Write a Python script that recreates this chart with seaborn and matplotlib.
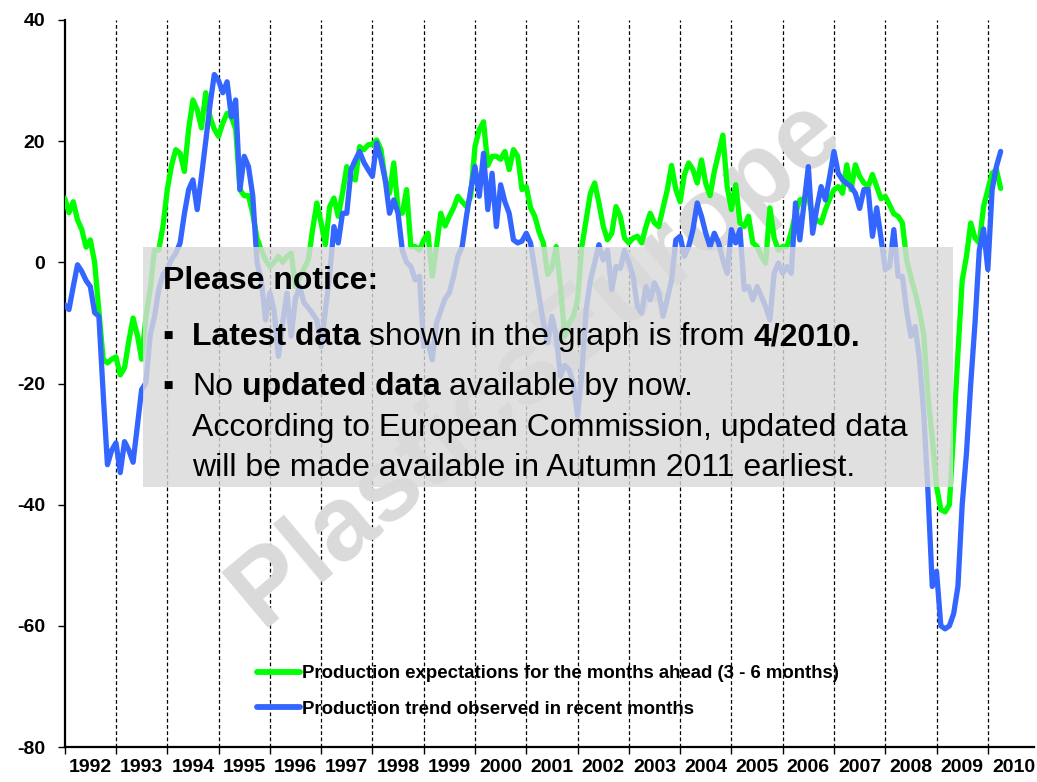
import numpy as np
import pandas as pd
import matplotlib
matplotlib.use("Agg")
import matplotlib.pyplot as plt
from matplotlib.patches import Rectangle
import seaborn as sns

# ---------------- data (monthly, Jan 1992 .. Apr 2010) ----------------
dates = pd.date_range("1992-01-01", periods=220, freq="MS")

expectations = [
    10.6, 8.2, 10, 7, 5.4, 2.5, 3.7, 0, -8, -16, -16.6, -16,
    -15.6, -18.6, -17.4, -13, -9.2, -12, -16, -9, -4.5, 2, 2, 6,
    12, 16, 18.6, 18, 15, 22, 26.8, 25.2, 22.2, 28, 24, 22,
    20.8, 23, 24.6, 24, 22, 12, 11, 11, 8, 4, 2, 0.4,
    -0.7, 0, 1, 0, 1, 1.5, -4, -2.5, -1, 0.4, 5.4, 9.8,
    6.5, 2.9, 9.2, 10.6, 7.6, 11.4, 15.8, 14, 13.6, 19.1, 18.6, 19.4,
    19.5, 20.2, 18.6, 13.6, 11.4, 16.4, 8.7, 8.1, 12, 2.6, 2.6, 2,
    3.7, 4.8, -2.3, 2.6, 8.1, 6, 7.6, 9, 10.9, 10, 9.2, 10.9,
    19.1, 21.9, 23.2, 16, 17.5, 17.5, 17, 18.3, 15.3, 18.6, 17.5, 12,
    12.5, 9, 7.6, 5, 3.2, -2, -1, 2.6, -4, -12.2, -10, -8.9,
    -6.2, 2.6, 7, 11.4, 13.1, 9.8, 6, 3.7, 4.8, 9.2, 7.6, 4,
    3.2, 4, 4.3, 3.2, 5.9, 8.1, 6.5, 5.9, 9, 12, 16, 12,
    10, 14.5, 16.4, 15.3, 13.1, 16.9, 13, 11, 15, 18, 21, 12.5,
    8.7, 12.8, 6.5, 5.9, 7.6, 3.2, 2.6, 1, -0.1, 9, 4, 2,
    2.6, 2.6, 5, 8, 10.3, 10.5, 10.9, 7.6, 7, 6.5, 8.7, 10.5,
    12, 12.5, 11.4, 16.1, 12, 16.1, 14.2, 13.1, 12.5, 14.5, 12.5, 10.5,
    10.9, 9.5, 8, 7.6, 6.5, 0.4, -2.5, -5, -8, -12, -22, -29,
    -37, -40.8, -41.2, -40, -28, -15, -3, 1, 6.5, 4, 3.2, 9.2,
    12, 14.7, 15.3, 12.2,
]

trend = [
    -7, -7.8, -4, -0.4, -1.5, -3, -4, -8.3, -8.9, -21.6, -33.4, -31,
    -29.8, -34.7, -29.6, -31, -33, -27, -21, -19.9, -12, -9, -4.5, -2,
    -1.2, 0.5, 1.5, 3.2, 8, 12, 13.6, 8.7, 14.2, 20, 26, 31,
    30, 28, 29.8, 24, 26.8, 12, 17.5, 15.8, 11, 0, -3, -9.5,
    -5, -8, -15.5, -10, -5.1, -12.2, -6, -4, -6.7, -7.5, -8.5, -9.5,
    -13.9, -8, -2, 5.9, 3.2, 8.1, 8.1, 15.3, 16.9, 18.3, 16.5, 15.3,
    14.2, 19.7, 17, 13.6, 8.1, 10.3, 8.1, 2, 0, -0.7, -2.9, -2.3,
    -13.9, -13.3, -16.1, -10, -8, -6, -5, -2.3, 1, 2.6, 7.6, 12,
    15.8, 10.9, 18, 8.7, 14.7, 5.9, 12.8, 10, 8.1, 3.7, 3.2, 3.5,
    4.8, 3.2, -1.2, -5.6, -10, -13.3, -8.9, -12.2, -18.8, -17, -17.7, -19.9,
    -25.4, -18.3, -7.8, -3, -0.1, 2.9, 0.4, 2, -4.5, -0.7, -1, 2,
    0, -2.3, -7.3, -8.4, -4, -6.2, -3.4, -5, -8.9, -6, -2.9, 3.7,
    4.3, 1, 2.6, 5.4, 9.8, 7.6, 4.8, 2.6, 4.8, 3.2, 0.4, -1.8,
    5.4, 3.2, 5.4, -4.5, -4, -6.2, -4, -5.6, -7.3, -9.5, -1.8, -0.1,
    -1.8, -0.7, -1.8, 9.8, 3.7, 9.8, 15.8, 4.8, 9, 12.5, 10.3, 14.2,
    18.3, 14.7, 13.6, 13, 12.5, 11.4, 8.9, 12, 12, 4.3, 9, 4,
    -1.2, -0.7, 5.4, -2.3, -2.3, -8, -12.2, -10.6, -16, -25, -38, -53.5,
    -51, -60, -60.5, -60, -58, -53.5, -40, -31.5, -20, -10, 2, 5.5,
    -1.2, 12, 15.8, 18.3,
]

year_labels = [str(y) for y in range(1992, 2011)]
y_ticks = [-80, -60, -40, -20, 0, 20, 40]

label_exp = "Production expectations for the months ahead (3 - 6 months)"
label_trend = "Production trend observed in recent months"

# ---------------- figure ----------------
sns.set_theme(style="white")
plt.rcParams["font.family"] = ["Liberation Sans", "DejaVu Sans"]
plt.rcParams["text.color"] = "black"
plt.rcParams["xtick.color"] = "black"
plt.rcParams["ytick.color"] = "black"

W, H = 1037, 782
fig = plt.figure(figsize=(W / 100, H / 100), dpi=100)
ax = fig.add_axes([64.7 / W, 35 / H, (1034 - 64.7) / W, 727 / H])

dec_year = dates.year + (dates.month - 1) / 12.0
df = pd.DataFrame({"t": dec_year, "exp": expectations, "trend": trend})

GREEN = "#00FF00"
BLUE = "#3366FF"

sns.lineplot(data=df, x="t", y="exp", color=GREEN, lw=3.8, ax=ax,
             label=label_exp, zorder=3, solid_joinstyle="round")
sns.lineplot(data=df, x="t", y="trend", color=BLUE, lw=3.8, ax=ax,
             label=label_trend, zorder=4, solid_joinstyle="round")

ax.set_xlim(1992, 2010.9)
ax.set_ylim(-80, 40)
ax.set_xlabel("")
ax.set_ylabel("")

# year separator dashed lines
for yr in range(1993, 2011):
    ax.axvline(yr, color="black", lw=0.9, ls=(0, (3, 2)), zorder=1)

# ticks
ax.set_yticks(y_ticks)
ax.set_yticklabels([str(v) for v in y_ticks], fontsize=14, fontweight="bold",
                   color="black")
ax.set_xticks(range(1992, 2011))
ax.set_xticklabels([])
ax.set_xticks([y + 0.5 for y in range(1992, 2011)], minor=True)
ax.set_xticklabels(year_labels, minor=True, fontsize=14, fontweight="bold",
                   color="black")
ax.tick_params(axis="x", which="major", direction="out", length=5, width=1,
               color="black", bottom=True)
ax.tick_params(axis="x", which="minor", length=0, pad=9, bottom=True)
ax.tick_params(axis="y", direction="out", length=5, width=1, color="black",
               pad=9, left=True)
for s in ["top", "right"]:
    ax.spines[s].set_visible(False)
for s in ["left", "bottom"]:
    ax.spines[s].set_color("black")
    ax.spines[s].set_linewidth(1.6)
ax.grid(False)

# watermark
ax.text(2001.2, -16.4, "PlasticsEurope", rotation=40, fontsize=76,
        fontweight="bold", color="#DADADA", ha="center", va="center",
        rotation_mode="anchor", zorder=2)

# notice box
ax.add_patch(Rectangle((1993.526, -37.05), 2009.316 - 1993.526, 2.56 + 37.05,
                       facecolor="#D9D9D9", alpha=0.81, edgecolor="none",
                       zorder=5))

# legend
leg = ax.legend(loc="upper left", bbox_to_anchor=(257 / W, 1 - 665 / H),
                bbox_transform=fig.transFigure, frameon=False,
                prop={"weight": "bold", "size": 13.4}, handlelength=2.3,
                handletextpad=0.12, labelspacing=1.0, borderpad=0,
                borderaxespad=0)
for ln in leg.get_lines():
    ln.set_linewidth(4.2)
for t in leg.get_texts():
    t.set_color("black")

# notice texts
FS = 23
SPACE = 0.278 * FS


def px(x, y):
    return (x / W, 1 - y / H)


def rich_line(x, y, segments):
    prev = None
    for txt, bold, gap in segments:
        w = "bold" if bold else "normal"
        if prev is None:
            prev = fig.text(*px(x, y), txt, fontsize=FS, fontweight=w,
                            ha="left", va="baseline", zorder=10,
                            color="black")
        else:
            prev = ax.annotate(txt, xy=(1, 0), xycoords=prev,
                               xytext=(SPACE if gap else 0, 0),
                               textcoords="offset points", fontsize=FS,
                               fontweight=w, ha="left", va="bottom",
                               zorder=10, color="black")


fig.text(*px(163, 289), "Please notice:", fontsize=FS, fontweight="bold",
         ha="left", va="baseline", zorder=10, color="black")
fig.text(*px(162, 345), "\u25aa", fontsize=FS, ha="left", va="baseline",
         zorder=10, family=["Liberation Sans", "DejaVu Sans"], color="black")
fig.text(*px(162, 395), "\u25aa", fontsize=FS, ha="left", va="baseline",
         zorder=10, family=["Liberation Sans", "DejaVu Sans"], color="black")
rich_line(192, 345, [("Latest data", True, False),
                     ("shown in the graph is from", False, True),
                     ("4/2010.", True, True)])
rich_line(192, 395, [("No", False, False),
                     ("updated data", True, True),
                     ("available by now.", False, True)])
fig.text(*px(192, 436), "According to European Commission, updated data",
         fontsize=FS, ha="left", va="baseline", zorder=10, color="black")
fig.text(*px(192, 476), "will be made available in Autumn 2011 earliest.",
         fontsize=FS, ha="left", va="baseline", zorder=10, color="black")

fig.savefig("out.png", dpi=100)
